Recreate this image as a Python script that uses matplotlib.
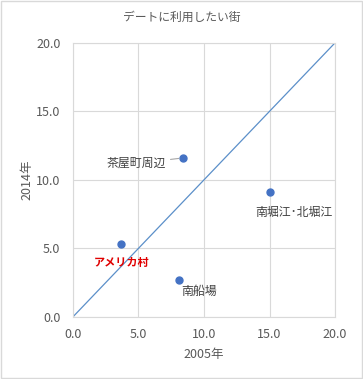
import matplotlib
matplotlib.use("Agg")
import matplotlib.pyplot as plt

plt.rcParams['font.family'] = ['Noto Sans CJK JP', 'DejaVu Sans']

# データ
names = ["茶屋町周辺", "南堀江･北堀江", "アメリカ村", "南船場"]
x2005 = [8.4, 15.0, 3.7, 8.1]
y2014 = [11.6, 9.1, 5.3, 2.7]
ticks = [0, 5, 10, 15, 20]

fig = plt.figure(figsize=(3.63, 3.79), dpi=100)
ax = fig.add_axes([0.201, 0.164, 0.722, 0.723])

# 対角線 (y = x)
ax.plot([ticks[0], ticks[-1]], [ticks[0], ticks[-1]], color="#5b8fc9", lw=0.9, zorder=2)
ax.scatter(x2005, y2014, s=25, color="#4472c4", zorder=3)

# ラベル
ax.annotate(names[0], (x2005[0], y2014[0]), xytext=(-12, -4), textcoords="offset points",
            fontsize=8.6, color="#404040", va="center", ha="right",
            arrowprops=dict(arrowstyle="-", color="#a6a6a6", lw=0.8, shrinkA=1, shrinkB=3))
ax.annotate(names[1], (x2005[1], y2014[1]), xytext=(-10, -14.5), textcoords="offset points",
            fontsize=8.6, color="#404040", va="center", ha="left")
ax.annotate(names[2], (x2005[2], y2014[2]), xytext=(-20, -13), textcoords="offset points",
            fontsize=8, color="#e00000", fontweight="bold", va="center", ha="left")
ax.annotate(names[3], (x2005[3], y2014[3]), xytext=(1.4, -8.6), textcoords="offset points",
            fontsize=8.6, color="#404040", va="center", ha="left")

ax.set_xlim(0, 20)
ax.set_ylim(0, 20)
ax.set_xticks(ticks)
ax.set_yticks(ticks)
ax.set_xticklabels(["%.1f" % t for t in ticks])
ax.set_yticklabels(["%.1f" % t for t in ticks])
ax.tick_params(axis="x", length=0, labelsize=9, labelcolor="#595959", pad=8)
ax.tick_params(axis="y", length=0, labelsize=9, labelcolor="#595959", pad=9)
ax.grid(color="#d9d9d9", lw=0.8)
ax.set_axisbelow(True)
for s in ax.spines.values():
    s.set_color("#d9d9d9")
    s.set_linewidth(0.8)

ax.set_xlabel("2005年", fontsize=9, color="#595959", labelpad=5)
ax.set_ylabel("2014年", fontsize=9, color="#595959", labelpad=2)
fig.text(0.5, 0.953, "デートに利用したい街", ha="center", va="center", fontsize=8.5, color="#595959")

# 外枠
fig.patches.append(plt.Rectangle((0.003, 0.003), 0.994, 0.994, transform=fig.transFigure,
                                 fill=False, edgecolor="#d9d9d9", lw=1))

fig.savefig("out.png", dpi=100)
